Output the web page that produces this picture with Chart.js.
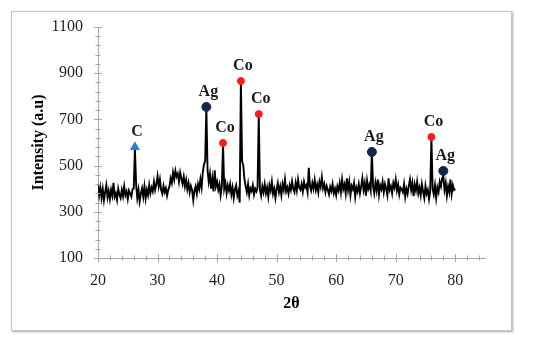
<!DOCTYPE html>
<html>
<head>
<meta charset="utf-8">
<script src="https://cdn.jsdelivr.net/npm/chart.js@4.4.1/dist/chart.umd.min.js"></script>
<style>
  html, body { margin: 0; padding: 0; background: #fff; }
  #wrap { position: relative; width: 550px; height: 340px; }
  #frame { position: absolute; left: 11px; top: 11px; width: 499px; height: 318px;
           border: 1px solid #c4c4c4; box-shadow: 1px 1px 2px #aaa; }
  #c { position: absolute; left: 0; top: 0; }
</style>
</head>
<body>
<div id="wrap">
  <div id="frame"></div>
  <canvas id="c" width="550" height="340"></canvas>
</div>
<script>
// ---- Data ----
const twoTheta = [
20.0,20.2,20.4,20.6,20.8,21.0,21.2,21.4,21.6,21.8,
22.0,22.2,22.4,22.6,22.8,23.0,23.2,23.4,23.6,23.8,
24.0,24.2,24.4,24.6,24.8,25.0,25.2,25.4,25.6,25.8,
26.0,26.2,26.4,26.6,26.8,27.0,27.2,27.4,27.6,27.8,
28.0,28.2,28.4,28.6,28.8,29.0,29.2,29.4,29.6,29.8,
30.0,30.2,30.4,30.6,30.8,31.0,31.2,31.4,31.6,31.8,
32.0,32.2,32.4,32.6,32.8,33.0,33.2,33.4,33.6,33.8,
34.0,34.2,34.4,34.6,34.8,35.0,35.2,35.4,35.6,35.8,
36.0,36.2,36.4,36.6,36.8,37.0,37.2,37.4,37.6,37.8,
38.0,38.2,38.4,38.6,38.8,39.0,39.2,39.4,39.6,39.8,
40.0,40.2,40.4,40.6,40.8,41.0,41.2,41.4,41.6,41.8,
42.0,42.2,42.4,42.6,42.8,43.0,43.2,43.4,43.6,43.8,
44.0,44.2,44.4,44.6,44.8,45.0,45.2,45.4,45.6,45.8,
46.0,46.2,46.4,46.6,46.8,47.0,47.2,47.4,47.6,47.8,
48.0,48.2,48.4,48.6,48.8,49.0,49.2,49.4,49.6,49.8,
50.0,50.2,50.4,50.6,50.8,51.0,51.2,51.4,51.6,51.8,
52.0,52.2,52.4,52.6,52.8,53.0,53.2,53.4,53.6,53.8,
54.0,54.2,54.4,54.6,54.8,55.0,55.2,55.4,55.6,55.8,
56.0,56.2,56.4,56.6,56.8,57.0,57.2,57.4,57.6,57.8,
58.0,58.2,58.4,58.6,58.8,59.0,59.2,59.4,59.6,59.8,
60.0,60.2,60.4,60.6,60.8,61.0,61.2,61.4,61.6,61.8,
62.0,62.2,62.4,62.6,62.8,63.0,63.2,63.4,63.6,63.8,
64.0,64.2,64.4,64.6,64.8,65.0,65.2,65.4,65.6,65.8,
66.0,66.2,66.4,66.6,66.8,67.0,67.2,67.4,67.6,67.8,
68.0,68.2,68.4,68.6,68.8,69.0,69.2,69.4,69.6,69.8,
70.0,70.2,70.4,70.6,70.8,71.0,71.2,71.4,71.6,71.8,
72.0,72.2,72.4,72.6,72.8,73.0,73.2,73.4,73.6,73.8,
74.0,74.2,74.4,74.6,74.8,75.0,75.2,75.4,75.6,75.8,
76.0,76.2,76.4,76.6,76.8,77.0,77.2,77.4,77.6,77.8,
78.0,78.2,78.4,78.6,78.8,79.0,79.2,79.4,79.6,79.8,
80.0];

const intensity = [
420,372,405,360,398,350,385,415,362,390,
355,395,370,425,365,380,352,400,375,360,
395,368,410,372,388,355,392,378,365,398,
400,575,420,360,395,345,380,402,365,410,
358,395,372,415,380,405,388,430,395,420,
455,410,440,395,378,412,385,402,370,395,
410,445,425,470,440,478,452,465,430,470,
445,420,452,410,438,398,425,385,412,395,
350,392,410,378,420,398,440,405,470,505,
520,750,480,430,465,400,445,388,480,410,
430,395,418,372,410,595,400,425,380,415,
392,420,375,405,360,398,415,370,390,340,
865,520,500,440,410,385,420,372,402,390,
415,375,400,388,405,720,395,370,410,385,
420,380,405,365,415,392,430,378,400,360,
398,425,385,410,372,420,395,440,388,405,
378,415,395,432,400,385,425,392,440,405,
395,420,388,430,405,415,385,490,410,392,
425,400,438,395,418,385,430,408,450,402,
420,385,412,395,375,408,390,420,380,400,
372,410,392,425,385,440,398,418,380,445,
395,430,372,412,398,425,365,405,388,420,
380,410,445,395,425,370,435,400,418,392,
560,410,380,425,392,440,375,415,398,430,
385,420,400,372,445,395,410,380,425,405,
440,392,418,375,405,398,385,420,365,400,
378,412,440,395,425,368,418,392,430,380,
405,372,420,388,360,412,378,395,355,390,
620,400,375,415,360,405,385,430,410,445,
455,395,425,370,410,385,440,378,415,395,
400];

const peakElements  = ['C', 'Ag', 'Co', 'Co', 'Co', 'Ag', 'Co', 'Ag'];
const peakTheta     = [26.2, 38.2, 41.0, 44.0, 47.0, 66.0, 76.0, 78.0];
const peakIntensity = [580, 754, 598, 866, 723, 559, 624, 477];

const xMin = 20, xMax = 85, xMajor = 10, xMinor = 2, xLastLabel = 80;
const yMin = 100, yMax = 1100, yMajor = 200, yMinor = 40;

// ---- Build datasets ----
const trace = twoTheta.map((t, i) => ({ x: t, y: intensity[i] }));
function peaksOf(el) {
  const out = [];
  peakElements.forEach((e, i) => { if (e === el) out.push({ x: peakTheta[i], y: peakIntensity[i], label: e }); });
  return out;
}

const SERIF = '"Liberation Serif", "Times New Roman", serif';
const AXIS = '#a8a8a8';

const axisTicks = {
  id: 'axisTicks',
  afterDatasetsDraw(chart) {
    const { ctx, scales: { x, y }, chartArea } = chart;
    ctx.save();
    ctx.strokeStyle = AXIS;
    ctx.lineWidth = 1;
    ctx.beginPath();
    for (let v = xMin; v <= xMax + 1e-9; v += xMinor) {
      const px = Math.round(x.getPixelForValue(v)) + 0.5;
      const major = (v - xMin) % xMajor === 0;
      const h = major ? 4 : 2.5;
      ctx.moveTo(px, chartArea.bottom - h);
      ctx.lineTo(px, chartArea.bottom + h);
    }
    for (let v = yMin; v <= yMax + 1e-9; v += yMinor) {
      const py = Math.round(y.getPixelForValue(v)) + 0.5;
      const major = (v - yMin) % yMajor === 0;
      const w = major ? 4 : 2.5;
      ctx.moveTo(chartArea.left - w, py);
      ctx.lineTo(chartArea.left + w, py);
    }
    ctx.stroke();
    ctx.restore();
  }
};

const peakLabels = {
  id: 'peakLabels',
  afterDatasetsDraw(chart) {
    const { ctx, scales: { x, y } } = chart;
    ctx.save();
    ctx.font = 'bold 16px ' + SERIF;
    ctx.fillStyle = '#1a1a1a';
    ctx.textAlign = 'center';
    ctx.textBaseline = 'middle';
    peakElements.forEach((e, i) => {
      const px = x.getPixelForValue(peakTheta[i]);
      const py = y.getPixelForValue(peakIntensity[i]);
      ctx.fillText(e, px + 2, py - 15);
    });
    ctx.restore();
  }
};

new Chart(document.getElementById('c'), {
  type: 'scatter',
  data: {
    datasets: [
      { label: 'C', data: peaksOf('C'), order: 0, pointStyle: 'triangle',
        pointRadius: 5, backgroundColor: '#2e7bcf', borderColor: '#2e7bcf', borderWidth: 1 },
      { label: 'Ag', data: peaksOf('Ag'), order: 0, pointStyle: 'circle',
        pointRadius: 4.5, backgroundColor: '#14254d', borderColor: '#14254d', borderWidth: 1 },
      { label: 'Co', data: peaksOf('Co'), order: 0, pointStyle: 'circle',
        pointRadius: 3.5, backgroundColor: '#ff1a1a', borderColor: '#ff1a1a', borderWidth: 1 },
      { label: 'XRD', data: trace, order: 10, showLine: true, pointRadius: 0,
        borderColor: '#000', borderWidth: 1.9, tension: 0 }
    ]
  },
  options: {
    responsive: false,
    animation: false,
    events: [],
    layout: { padding: { left: 0, right: 65, top: 27, bottom: 0 } },
    plugins: { legend: { display: false }, tooltip: { enabled: false } },
    scales: {
      x: {
        type: 'linear', min: xMin, max: xMax,
        afterBuildTicks(s) {
          const t = [];
          for (let v = xMin; v <= xLastLabel; v += xMajor) t.push({ value: v });
          s.ticks = t;
        },
        afterFit(s) { s.height = 82; },
        grid: { display: false, drawTicks: false },
        border: { display: true, color: AXIS, width: 1 },
        ticks: { padding: 13, color: '#1f1f1f', font: { family: SERIF, size: 16 }, maxRotation: 0,
                 callback: v => String(v) },
        title: { display: true, text: '2θ', color: '#000',
                 font: { family: SERIF, size: 16, weight: 'bold' }, padding: { top: 0, bottom: 27 } }
      },
      y: {
        type: 'linear', min: yMin, max: yMax,
        afterBuildTicks(s) {
          const t = [];
          for (let v = yMin; v <= yMax; v += yMajor) t.push({ value: v });
          s.ticks = t;
        },
        afterFit(s) { s.width = 98; },
        grid: { display: false, drawTicks: false },
        border: { display: true, color: AXIS, width: 1 },
        ticks: { padding: 15, color: '#1f1f1f', font: { family: SERIF, size: 16 },
                 callback: v => String(v) },
        title: { display: true, text: 'Intensity (a.u)', color: '#000',
                 font: { family: SERIF, size: 16, weight: 'bold' }, padding: { top: 29, bottom: 0 } }
      }
    }
  },
  plugins: [axisTicks, peakLabels]
});
</script>
</body>
</html>
